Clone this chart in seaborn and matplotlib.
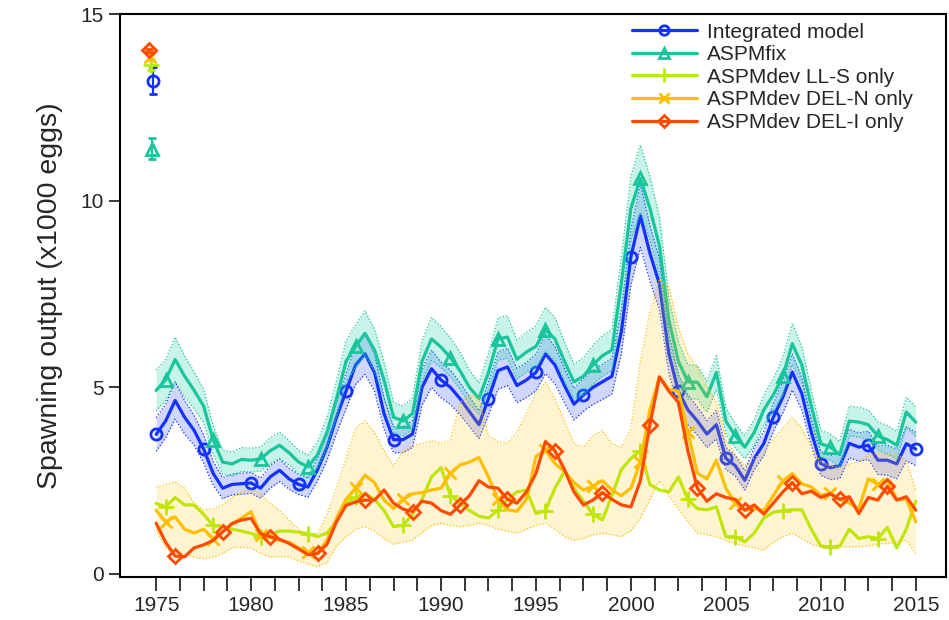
import numpy as np
import pandas as pd
import matplotlib
matplotlib.use("Agg")
import matplotlib.pyplot as plt
import seaborn as sns
from matplotlib.lines import Line2D

# ---------------- data (half-year steps 1975.0 ... 2015.0) ----------------
years = np.arange(1975.0, 2015.01, 0.5)

integrated = [3.74, 4.10, 4.65, 4.20, 3.85, 3.35, 2.70, 2.30, 2.40, 2.42,
              2.44, 2.30, 2.60, 2.78, 2.55, 2.40, 2.33, 2.80, 3.40, 4.20,
              4.90, 5.60, 5.90, 5.40, 4.30, 3.60, 3.60, 3.75, 5.00, 5.50,
              5.20, 5.00, 4.70, 4.35, 4.00, 4.70, 5.45, 5.55, 5.05, 5.20,
              5.40, 5.90, 5.60, 5.05, 4.55, 4.80, 5.00, 5.15, 5.30, 6.50,
              8.50, 9.60, 8.60, 7.77, 5.90, 4.90, 4.40, 4.10, 3.75, 4.00,
              3.10, 2.90, 2.51, 3.10, 3.50, 4.20, 4.74, 5.41, 4.83, 3.80,
              2.96, 2.85, 2.90, 3.50, 3.40, 3.45, 3.05, 3.05, 2.95, 3.49,
              3.35]
integrated_hw = [0.45, 0.45, 0.50, 0.45, 0.40, 0.38, 0.32, 0.28, 0.28, 0.28,
                 0.28, 0.27, 0.30, 0.30, 0.28, 0.27, 0.27, 0.30, 0.35, 0.42,
                 0.48, 0.52, 0.55, 0.50, 0.42, 0.35, 0.35, 0.36, 0.48, 0.50,
                 0.48, 0.46, 0.43, 0.40, 0.37, 0.44, 0.50, 0.50, 0.46, 0.47,
                 0.49, 0.53, 0.50, 0.46, 0.42, 0.44, 0.46, 0.47, 0.48, 0.58,
                 0.75, 0.85, 0.75, 0.68, 0.52, 0.45, 0.40, 0.38, 0.36, 0.38,
                 0.30, 0.28, 0.26, 0.30, 0.33, 0.38, 0.43, 0.48, 0.44, 0.36,
                 0.32, 0.32, 0.34, 0.38, 0.38, 0.38, 0.38, 0.40, 0.40, 0.45,
                 0.45]

aspmfix = [4.92, 5.20, 5.75, 5.30, 4.92, 4.50, 3.60, 3.00, 2.95, 3.07,
           3.05, 3.08, 3.30, 3.45, 3.25, 3.00, 2.87, 3.20, 3.80, 4.70,
           5.70, 6.10, 6.45, 6.00, 5.20, 4.20, 4.10, 4.30, 5.70, 6.30,
           6.08, 5.80, 5.45, 5.00, 4.70, 5.40, 6.30, 6.35, 5.75, 5.95,
           6.10, 6.55, 6.30, 5.70, 5.15, 5.30, 5.60, 5.85, 6.00, 7.80,
           9.80, 10.60, 9.80, 8.80, 6.80, 5.70, 5.15, 5.14, 4.75, 5.40,
           4.10, 3.70, 3.40, 3.80, 4.40, 4.80, 5.30, 6.17, 5.60, 4.50,
           3.49, 3.40, 3.20, 4.10, 4.07, 4.00, 3.70, 3.60, 3.45, 4.34,
           4.07]
aspmfix_hw = [0.55, 0.55, 0.60, 0.55, 0.50, 0.45, 0.38, 0.33, 0.32, 0.32,
              0.32, 0.32, 0.35, 0.35, 0.33, 0.32, 0.32, 0.35, 0.40, 0.48,
              0.55, 0.58, 0.60, 0.56, 0.48, 0.40, 0.40, 0.42, 0.55, 0.58,
              0.55, 0.52, 0.50, 0.46, 0.42, 0.50, 0.57, 0.57, 0.52, 0.53,
              0.55, 0.60, 0.57, 0.52, 0.47, 0.50, 0.52, 0.54, 0.55, 0.70,
              0.85, 0.90, 0.85, 0.78, 0.60, 0.52, 0.46, 0.45, 0.42, 0.45,
              0.36, 0.33, 0.31, 0.35, 0.40, 0.44, 0.50, 0.55, 0.50, 0.42,
              0.36, 0.35, 0.35, 0.40, 0.40, 0.40, 0.38, 0.38, 0.37, 0.40,
              0.40]

ll_s = [1.89, 1.80, 2.05, 1.85, 1.85, 1.60, 1.30, 1.27, 1.20, 1.15,
        1.09, 1.00, 1.05, 1.15, 1.15, 1.12, 1.08, 1.00, 1.10, 1.40,
        1.92, 2.05, 2.15, 2.00, 1.70, 1.27, 1.30, 1.60, 2.00, 2.60,
        2.85, 2.10, 1.90, 1.70, 1.55, 1.50, 1.71, 2.00, 2.20, 2.25,
        1.62, 1.70, 2.30, 2.75, 2.30, 1.95, 1.60, 1.45, 2.10, 2.80,
        3.10, 3.30, 2.40, 2.25, 2.20, 2.60, 2.00, 1.75, 1.72, 1.80,
        1.00, 1.00, 0.86, 1.10, 1.50, 1.65, 1.70, 1.72, 1.72, 1.20,
        0.75, 0.72, 0.75, 1.20, 0.95, 1.00, 0.95, 1.25, 0.70, 1.20,
        1.95]

del_n = [1.71, 1.40, 1.53, 1.20, 1.10, 1.20, 0.95, 1.13, 1.35, 1.50,
         1.67, 1.05, 0.98, 0.90, 0.85, 0.70, 0.60, 0.55, 0.91, 1.50,
         2.00, 2.30, 2.65, 2.45, 1.98, 1.76, 2.00, 2.15, 2.18, 2.25,
         2.30, 2.70, 2.92, 3.00, 3.12, 2.60, 2.00, 1.72, 1.68, 2.00,
         3.15, 3.32, 2.96, 2.75, 2.45, 2.25, 2.35, 2.50, 2.25, 2.10,
         2.30, 3.00, 4.40, 5.28, 4.95, 4.90, 3.80, 2.70, 2.55, 3.05,
         2.30, 1.90, 1.71, 1.75, 1.70, 2.10, 2.50, 2.69, 2.42, 2.33,
         2.11, 2.16, 2.00, 1.90, 1.75, 2.55, 2.40, 2.51, 2.00, 2.00,
         1.40]
del_n_upper = [2.33, 2.40, 2.47, 2.30, 1.90, 1.72, 1.75, 1.85, 2.05, 2.20,
               2.25, 2.15, 1.90, 1.70, 1.45, 1.20, 1.00, 1.05, 1.60, 2.30,
               3.10, 3.90, 4.10, 3.80, 3.30, 2.90, 3.30, 3.45, 3.50, 3.58,
               3.50, 3.60, 4.60, 4.80, 4.70, 3.70, 3.55, 3.50, 3.80, 4.30,
               4.85, 5.14, 4.70, 4.10, 3.50, 3.40, 3.70, 3.85, 3.50, 3.40,
               3.90, 5.70, 7.00, 7.90, 7.70, 6.60, 5.90, 5.50, 5.00, 4.60,
               3.60, 3.20, 2.90, 3.10, 3.30, 3.60, 3.90, 4.20, 3.90, 3.40,
               3.00, 2.90, 2.85, 2.95, 3.00, 3.20, 3.25, 3.20, 3.20, 3.05,
               2.25]
del_n_lower = [1.18, 0.70, 0.55, 0.55, 0.45, 0.40, 0.45, 0.55, 0.70, 0.72,
               0.69, 0.55, 0.46, 0.46, 0.46, 0.35, 0.27, 0.20, 0.30, 0.75,
               1.00, 1.20, 1.27, 1.15, 0.95, 0.80, 0.85, 0.91, 1.10, 1.30,
               1.36, 1.30, 1.27, 1.30, 1.36, 1.30, 1.20, 1.15, 1.10, 1.20,
               1.30, 1.36, 1.20, 1.00, 0.90, 0.95, 1.05, 1.09, 1.05, 1.00,
               1.15, 1.50, 2.00, 2.50, 2.10, 1.75, 1.40, 1.10, 1.05, 1.00,
               0.90, 0.82, 0.75, 0.70, 0.64, 0.85, 1.00, 1.09, 0.95, 0.80,
               0.73, 0.73, 0.73, 0.73, 0.73, 0.75, 0.80, 0.82, 0.85, 0.90,
               0.55]

del_i = [1.36, 0.85, 0.48, 0.46, 0.70, 0.78, 0.90, 1.13, 1.35, 1.45,
         1.49, 1.08, 1.00, 0.93, 0.82, 0.67, 0.52, 0.55, 0.80, 1.40,
         1.84, 1.93, 1.98, 1.98, 2.25, 1.90, 1.74, 1.67, 1.95, 1.90,
         1.70, 1.60, 1.85, 2.10, 2.50, 2.33, 2.30, 2.00, 1.90, 2.20,
         2.70, 3.55, 3.30, 2.80, 2.20, 1.85, 1.98, 2.18, 2.00, 1.85,
         1.80, 2.50, 4.00, 5.28, 4.90, 4.60, 3.30, 2.30, 1.95, 2.15,
         2.05, 2.00, 1.71, 1.85, 1.60, 1.90, 2.20, 2.45, 2.15, 2.22,
         2.05, 2.15, 2.00, 2.07, 1.62, 2.05, 1.98, 2.35, 1.98, 2.07,
         1.71]

# unfished (virgin) spawning output, plotted left of 1975
labels = ["Integrated model", "ASPMfix", "ASPMdev LL-S only",
          "ASPMdev DEL-N only", "ASPMdev DEL-I only"]
virgin_x = [1974.85, 1974.80, 1974.75, 1974.70, 1974.65]
virgin_y = [13.22, 11.40, 13.65, 13.85, 14.03]
virgin_err = [0.37, 0.28, 0.15, 0.08, 0.05]

x_tick_labels = ["1975", "1980", "1985", "1990", "1995", "2000", "2005", "2010", "2015"]

# ---------------- styling ----------------
colors = ["#1432ff", "#19c59b", "#b3ee0c", "#ffbf00", "#ff4a00"]
markers = ["o", "^", "+", "x", "D"]
msizes = [8, 9, 12, 9, 7.5]
mark_start = [0, 1, 1, 1, 2]

df = pd.DataFrame({"year": years,
                   labels[0]: integrated, labels[1]: aspmfix, labels[2]: ll_s,
                   labels[3]: del_n, labels[4]: del_i})

sns.set_style("ticks")
plt.rcParams["font.family"] = ["Liberation Sans", "DejaVu Sans"]

fig = plt.figure(figsize=(9.49, 6.2), dpi=100)
ax = fig.add_axes([0.1265, 0.0694, 0.8705, 0.9076])

bands = {
    0: (np.array(integrated) - np.array(integrated_hw),
        np.array(integrated) + np.array(integrated_hw), "#2846ff", 0.22),
    1: (np.array(aspmfix) - np.array(aspmfix_hw),
        np.array(aspmfix) + np.array(aspmfix_hw), "#22d0a4", 0.25),
    3: (np.array(del_n_lower), np.array(del_n_upper), "#ffc400", 0.18),
}

z = 2
for i, lab in enumerate(labels):
    c = colors[i]
    if i in bands:
        lo, hi, bc, a = bands[i]
        ax.fill_between(years, lo, hi, color=bc, alpha=a, lw=0, zorder=z)
        ax.plot(years, lo, ls=":", color=c, lw=0.9, zorder=z + 0.1)
        ax.plot(years, hi, ls=":", color=c, lw=0.9, zorder=z + 0.1)
    sns.lineplot(data=df, x="year", y=lab, ax=ax, color=c, lw=2.3,
                 marker=markers[i], markevery=(mark_start[i], 5),
                 markersize=msizes[i], markerfacecolor="none",
                 markeredgecolor=c, markeredgewidth=2.0,
                 estimator=None, sort=False, legend=False, zorder=z + 0.5)
    ax.errorbar([virgin_x[i]], [virgin_y[i]], yerr=[virgin_err[i]],
                fmt=markers[i], color=c, ms=msizes[i], mfc="none", mec=c,
                mew=2.0, elinewidth=1.6, capsize=3, capthick=1.6, zorder=z + 0.6)
    z += 1

ax.set_xlim(1973.1, 2016.6)
ax.set_ylim(-0.08, 15)
ax.set_yticks([0, 5, 10, 15])
xt = np.arange(1975, 2015.01, 1.25)
ax.set_xticks(xt)
ax.set_xticklabels([x_tick_labels[int(round((t - 1975) / 5))] if abs((t - 1975) % 5) < 1e-9 else ""
                    for t in xt])
ax.tick_params(axis="x", length=10, width=1.3, labelsize=15, pad=4, direction="out")
ax.tick_params(axis="y", length=8, width=1.3, labelsize=15, pad=4, direction="out")
ax.set_xlabel("")
ax.set_ylabel("Spawning output (x1000 eggs)", fontsize=20.5, labelpad=12)
for s in ax.spines.values():
    s.set_visible(True)
    s.set_linewidth(1.5)
    s.set_color("black")

handles = [Line2D([], [], color=colors[i], lw=2.3, marker=markers[i],
                  ms=msizes[i] * 0.85, mfc="none", mec=colors[i], mew=2.0)
           for i in range(5)]
leg = ax.legend(handles, labels, loc="upper left",
                bbox_to_anchor=((632 - 120) / 826, 0.985), frameon=False,
                fontsize=15, handlelength=3.1, handletextpad=0.5,
                labelspacing=0.17, borderpad=0, borderaxespad=0)

fig.savefig("out.png", dpi=100)
